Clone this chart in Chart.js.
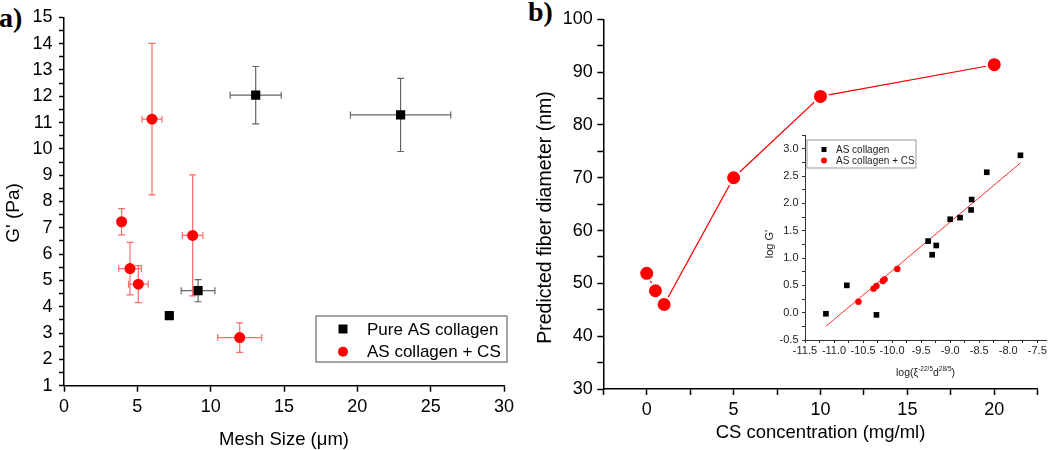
<!DOCTYPE html>
<html>
<head>
<meta charset="utf-8">
<script src="https://cdn.jsdelivr.net/npm/chart.js@4.4.1/dist/chart.umd.min.js"></script>
<style>
  body { margin: 0; background: #fff; width: 1050px; height: 450px; position: relative; overflow: hidden; }
  canvas { position: absolute; }
  .tag { position: absolute; font: bold 28px "Liberation Serif", "Times New Roman", serif; line-height: 28px; }
</style>
</head>
<body>
<div class="tag" style="left:-1px;top:4px">a)</div>
<div class="tag" style="left:528px;top:-2px">b)</div>
<canvas id="chartA" width="520" height="450" style="left:0;top:0"></canvas>
<canvas id="chartB" width="530" height="450" style="left:520px;top:0"></canvas>
<canvas id="chartC" width="300" height="260" style="left:750px;top:125px"></canvas>
<script>
// panel a: G' vs mesh size
const pureMesh = [13.07, 22.95, 9.14, 7.18];
const pureG = [12.04, 11.29, 4.61, 3.66];
const pureMeshErr = [1.74, 3.42, 1.15, 0];
const pureGErr = [1.09, 1.39, 0.42, 0];
const csMesh = [6.0, 3.93, 4.5, 5.07, 8.77, 11.98];
const csG = [11.13, 7.23, 5.45, 4.86, 6.71, 2.83];
const csMeshErr = [0.68, 0, 0.77, 0.67, 0.7, 1.5];
const csGErr = [2.88, 0.5, 1.0, 0.7, 2.3, 0.56];

// panel b: fiber diameter vs CS concentration
const csConc = [0, 0.5, 1, 5, 10, 20];
const fiberDiam = [51.9, 48.6, 46.0, 70.0, 85.4, 91.4];

// inset: log G' vs log(xi^-22/5 d^28/5)
const asX = [-11.14, -10.78, -10.27, -9.38, -9.31, -9.24, -9.0, -8.83, -8.64, -8.63, -8.37, -7.79];
const asY = [-0.02, 0.50, -0.04, 1.31, 1.06, 1.23, 1.71, 1.74, 1.88, 2.07, 2.57, 2.88];
const ascsX = [-10.58, -10.32, -10.27, -10.16, -10.13, -9.91];
const ascsY = [0.20, 0.44, 0.49, 0.58, 0.61, 0.80];
const fitX = [-11.14, -7.79];
const fitY = [-0.25, 2.74];

const pts = (xs, ys) => xs.map((x, i) => ({x: x, y: ys[i]}));

Chart.defaults.font.family = '"Liberation Sans", Arial, sans-serif';
Chart.defaults.color = '#000';

// error bars drawn under the markers
const errorBars = {
  id: 'errorBars',
  beforeDatasetsDraw(chart) {
    const {ctx, scales: {x, y}} = chart;
    chart.data.datasets.forEach(ds => {
      if (!ds.errX && !ds.errY) return;
      ctx.save();
      ctx.strokeStyle = ds.errColor;
      ctx.lineWidth = 1.2;
      const cap = 3.5;
      ds.data.forEach((p, j) => {
        const px = x.getPixelForValue(p.x), py = y.getPixelForValue(p.y);
        const ex = ds.errX[j], ey = ds.errY[j];
        ctx.beginPath();
        if (ey) {
          const t = y.getPixelForValue(p.y + ey), b = y.getPixelForValue(p.y - ey);
          ctx.moveTo(px, t); ctx.lineTo(px, b);
          ctx.moveTo(px - cap, t); ctx.lineTo(px + cap, t);
          ctx.moveTo(px - cap, b); ctx.lineTo(px + cap, b);
        }
        if (ex) {
          const l = x.getPixelForValue(p.x - ex), r = x.getPixelForValue(p.x + ex);
          ctx.moveTo(l, py); ctx.lineTo(r, py);
          ctx.moveTo(l, py - cap); ctx.lineTo(l, py + cap);
          ctx.moveTo(r, py - cap); ctx.lineTo(r, py + cap);
        }
        ctx.stroke();
      });
      ctx.restore();
    });
  }
};

// boxed legend inside the plot
const boxLegend = {
  id: 'boxLegend',
  afterDraw(chart, args, o) {
    if (!o.items) return;
    const ctx = chart.ctx;
    ctx.save();
    ctx.strokeStyle = o.border;
    ctx.lineWidth = o.borderWidth;
    ctx.strokeRect(o.left, o.top, o.width, o.height);
    ctx.font = o.font;
    ctx.textBaseline = 'middle';
    ctx.fillStyle = o.color;
    o.items.forEach((idx, k) => {
      const ds = chart.data.datasets[idx];
      const cx = o.left + o.markerX, cy = o.top + o.rows[k];
      ctx.fillStyle = ds.pointBackgroundColor;
      if (ds.pointStyle === 'rect') {
        ctx.fillRect(cx - o.size / 2, cy - o.size / 2, o.size, o.size);
      } else {
        ctx.beginPath();
        ctx.arc(cx, cy, o.size / 2 + 0.5, 0, Math.PI * 2);
        ctx.fill();
      }
      ctx.fillStyle = o.color;
      ctx.fillText(ds.label, o.left + o.textX, cy + 1);
    });
    ctx.restore();
  }
};

// rotated y title
const yTitle = {
  id: 'yTitle',
  afterDraw(chart, args, o) {
    if (!o.text) return;
    const ctx = chart.ctx;
    ctx.save();
    ctx.translate(o.x, o.y);
    ctx.rotate(-Math.PI / 2);
    ctx.font = o.font;
    ctx.fillStyle = o.color || '#000';
    ctx.textAlign = 'center';
    ctx.textBaseline = 'middle';
    ctx.fillText(o.text, 0, 0);
    ctx.restore();
  }
};

// x title with superscripts
const supTitle = {
  id: 'supTitle',
  afterDraw(chart, args, o) {
    if (!o.parts) return;
    const ctx = chart.ctx;
    const a = chart.chartArea;
    ctx.save();
    ctx.fillStyle = o.color;
    ctx.textBaseline = 'alphabetic';
    let w = 0;
    o.parts.forEach(p => {
      ctx.font = (p.sup ? o.supSize : o.size) + 'px "Liberation Sans", Arial, sans-serif';
      w += ctx.measureText(p.t).width;
    });
    let x = (a.left + a.right) / 2 - w / 2;
    const base = a.bottom + o.dy;
    o.parts.forEach(p => {
      ctx.font = (p.sup ? o.supSize : o.size) + 'px "Liberation Sans", Arial, sans-serif';
      ctx.fillText(p.t, x, p.sup ? base - o.raise : base);
      x += ctx.measureText(p.t).width;
    });
    ctx.restore();
  }
};

const axisGrid = (len, w, col) => ({ drawOnChartArea: false, drawTicks: true, tickLength: len, tickColor: col, tickWidth: w });

// panel a
new Chart(document.getElementById('chartA'), {
  type: 'scatter',
  data: {
    datasets: [
      { label: 'Pure AS collagen', data: pts(pureMesh, pureG), pointStyle: 'rect', pointRadius: 6.5,
        pointBackgroundColor: '#000', pointBorderWidth: 0, errX: pureMeshErr, errY: pureGErr, errColor: '#666' },
      { label: 'AS collagen + CS', data: pts(csMesh, csG), pointStyle: 'circle', pointRadius: 5.5,
        pointBackgroundColor: '#ff0000', pointBorderWidth: 0, errX: csMeshErr, errY: csGErr, errColor: '#ff6b6b' }
    ]
  },
  options: {
    responsive: false,
    animation: false,
    events: [],
    layout: { padding: { top: 16, right: 16, left: 0, bottom: 0 } },
    plugins: {
      legend: { display: false },
      tooltip: { enabled: false },
      boxLegend: { items: [0, 1], left: 316, top: 316, width: 191, height: 46, markerX: 27, rows: [13, 35.7],
        textX: 51, size: 9, font: '17px "Liberation Sans", Arial, sans-serif', color: '#000', border: '#888', borderWidth: 1.5 },
      yTitle: { text: "G' (Pa)", x: 14, y: 213, font: '19px "Liberation Sans", Arial, sans-serif' }
    },
    scales: {
      x: {
        type: 'linear', min: 0, max: 30,
        ticks: { stepSize: 5, font: { size: 18 }, color: '#000', padding: 4.5, autoSkip: false, maxRotation: 0 },
        grid: axisGrid(6, 1.5, '#000'),
        border: { color: '#000', width: 1.5 },
        title: { display: true, text: 'Mesh Size (μm)', font: { size: 18.5, lineHeight: 1 }, color: '#000', padding: { top: 0, bottom: 0.75 } },
        afterFit: s => { s.height = 64.3; }
      },
      y: {
        type: 'linear', min: 1, max: 15,
        ticks: { stepSize: 0.5, font: { size: 18 }, color: '#000', padding: 6.5, autoSkip: false,
          callback: v => Number.isInteger(v) ? v : '' },
        grid: axisGrid(5, 1.5, '#000'),
        border: { color: '#000', width: 1.5 },
        afterFit: s => { s.width = 64; }
      }
    }
  },
  plugins: [errorBars, boxLegend, yTitle]
});

// panel b
new Chart(document.getElementById('chartB'), {
  type: 'scatter',
  data: {
    datasets: [
      { label: 'Predicted fiber diameter', data: pts(csConc, fiberDiam), showLine: true,
        borderColor: '#ff0000', borderWidth: 1.2, pointStyle: 'circle', pointRadius: 7.5,
        pointBackgroundColor: '#ff0000', pointBorderColor: '#ffffff', pointBorderWidth: 2 }
    ]
  },
  options: {
    responsive: false,
    animation: false,
    events: [],
    layout: { padding: { top: 19.3, right: 12.3, left: 0, bottom: 0 } },
    plugins: {
      legend: { display: false },
      tooltip: { enabled: false },
      yTitle: { text: 'Predicted fiber diameter (nm)', x: 26, y: 217.5, font: '19.5px "Liberation Sans", Arial, sans-serif' }
    },
    scales: {
      x: {
        type: 'linear', min: -2.5, max: 22.5,
        ticks: { stepSize: 2.5, font: { size: 18 }, color: '#000', padding: 4, autoSkip: false, maxRotation: 0,
          callback: v => (v >= 0 && v % 5 === 0) ? v : '' },
        grid: axisGrid(6, 1.5, '#000'),
        border: { color: '#000', width: 1.5 },
        title: { display: true, text: 'CS concentration (mg/ml)', font: { size: 18.5, lineHeight: 1 }, color: '#000', padding: { top: 0, bottom: 7.75 } },
        afterFit: s => { s.height = 61; }
      },
      y: {
        type: 'linear', min: 30, max: 100,
        ticks: { stepSize: 5, font: { size: 18 }, color: '#000', padding: 4.6, autoSkip: false,
          callback: v => v % 10 === 0 ? v : '' },
        grid: axisGrid(6, 1.5, '#000'),
        border: { color: '#000', width: 1.5 },
        afterFit: s => { s.width = 83.3; }
      }
    }
  },
  plugins: [yTitle]
});

// inset
new Chart(document.getElementById('chartC'), {
  type: 'scatter',
  data: {
    datasets: [
      { label: 'AS collagen', data: pts(asX, asY), pointStyle: 'rect', pointRadius: 4,
        pointBackgroundColor: '#000', pointBorderWidth: 0 },
      { label: 'AS collagen + CS', data: pts(ascsX, ascsY), pointStyle: 'circle', pointRadius: 3.2,
        pointBackgroundColor: '#ff0000', pointBorderWidth: 0 },
      { label: 'fit', data: pts(fitX, fitY), showLine: true, borderColor: '#ff2a2a', borderWidth: 1, pointRadius: 0 }
    ]
  },
  options: {
    responsive: false,
    animation: false,
    events: [],
    layout: { padding: { top: 10, right: 2, left: 0, bottom: 0 } },
    plugins: {
      legend: { display: false },
      tooltip: { enabled: false },
      boxLegend: { items: [0, 1], left: 57, top: 15, width: 109, height: 28, markerX: 17, rows: [9.5, 20.5],
        textX: 29, size: 5, font: '10px "Liberation Sans", Arial, sans-serif', color: '#222', border: '#999', borderWidth: 1 },
      yTitle: { text: "log G'", x: 20, y: 119, font: '11px "Liberation Sans", Arial, sans-serif', color: '#222' },
      supTitle: { parts: [{t: 'log(ξ'}, {t: '-22/5', sup: true}, {t: 'd'}, {t: '28/5', sup: true}, {t: ')'}],
        size: 10.5, supSize: 6.5, raise: 5, dy: 35.5, color: '#222' }
    },
    scales: {
      x: {
        type: 'linear', min: -11.5, max: -7.35,
        ticks: { stepSize: 0.25, includeBounds: false, font: { size: 11 }, color: '#222', padding: 1, autoSkip: false, maxRotation: 0,
          callback: v => Math.abs(v * 2 - Math.round(v * 2)) < 1e-6 ? v.toFixed(1) : '' },
        grid: axisGrid(3, 1, '#333'),
        border: { color: '#333', width: 1 },
        afterFit: s => { s.height = 45; }
      },
      y: {
        type: 'linear', min: -0.5, max: 3.25,
        ticks: { stepSize: 0.25, includeBounds: false, font: { size: 11 }, color: '#222', padding: 3.5, autoSkip: false,
          callback: v => (Math.abs(v * 2 - Math.round(v * 2)) < 1e-6 && v <= 3) ? v.toFixed(1) : '' },
        grid: axisGrid(3, 1, '#333'),
        border: { color: '#333', width: 1 },
        afterFit: s => { s.width = 55; }
      }
    }
  },
  plugins: [boxLegend, yTitle, supTitle]
});
</script>
</body>
</html>
